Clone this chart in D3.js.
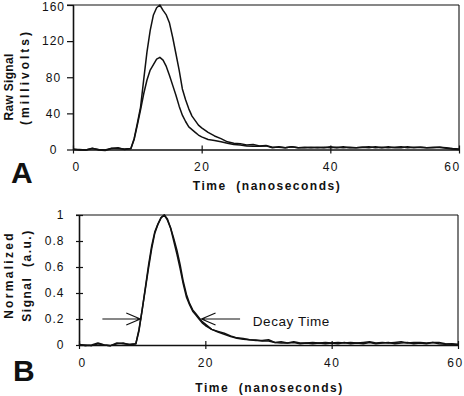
<!DOCTYPE html>
<html><head><meta charset="utf-8">
<script src="https://cdn.jsdelivr.net/npm/d3@7"></script>
<style>
html,body{margin:0;padding:0;background:#fff;}
svg{display:block;font-family:"Liberation Sans",Arial,Helvetica,sans-serif;}
</style></head>
<body>
<svg id="chart" width="464" height="396"></svg>
<script>
// ---- data ----
const times = [0,1,2,3,4,5,6,7,8,9,9.5,10,10.5,11,11.5,12,12.5,13,13.5,14,14.5,15,15.5,16,16.5,17,17.5,18,18.5,19,19.5,20,
  21,22,23,24,25,26,27,28,29,30,31,32,33,34,35,36,37,38,39,40,41,42,43,44,45,46,47,48,49,50,51,52,53,54,55,56,57,58,59,60];

// Panel A: raw signal (millivolts)
const rawHigh = [0.5,-0.5,-0.5,1.5,-0.5,-1,1,2,0,1,12,29,47,78,108,132,149,157,160,154,149,140,124,106,88,67,55,45,37,32,27,24,
  19,15,12,8.5,7,6.5,5,5.5,4,4.5,2.5,2.5,2,3,2,2.5,2,2.5,2,3,2,3,2,2,2.5,2,3,2,3,2,2,3,2,2.5,2,2,2.5,2,1,0.5];
const rawLow = [0,0,-0.5,1,0,-0.5,1.5,1,0.5,1,11,27,44,62,77,88,94,100,102,99,92,82,71,60,48,38,31,25,22,19,16,14,
  11,10,8.5,7,5.5,5,4,3.5,3.5,4,2,3,2,3,2,2,2.5,2,2.5,2,2.5,2,2.5,2,2.5,3,2,2.5,2,2.5,3,2,2.5,2.5,2,2.5,2.5,1.5,0.5,0];

// Panel B: normalized signal (a.u.)
const normHigh = [0.005,-0.005,0,0.015,0,-0.005,0.01,0.015,0,0.01,0.12,0.27,0.43,0.59,0.74,0.86,0.93,0.98,1.0,0.96,0.9,0.82,0.73,0.62,0.49,0.39,0.32,0.27,0.24,0.21,0.18,0.16,
  0.12,0.1,0.082,0.065,0.052,0.045,0.04,0.038,0.03,0.03,0.02,0.015,0.015,0.02,0.01,0.015,0.01,0.015,0.01,0.015,0.01,0.02,0.01,0.015,0.01,0.02,0.01,0.015,0.02,0.01,0.015,0.02,0.01,0.015,0.01,0.02,0.01,0.005,0.01,0.005];
const normLow = [0,0,-0.005,0.01,0,-0.005,0.015,0.01,0.005,0.01,0.11,0.27,0.44,0.61,0.76,0.87,0.93,0.98,1.0,0.97,0.9,0.8,0.7,0.59,0.47,0.37,0.31,0.26,0.23,0.2,0.17,0.15,
  0.12,0.105,0.09,0.07,0.055,0.05,0.04,0.035,0.035,0.04,0.02,0.025,0.015,0.025,0.015,0.015,0.02,0.015,0.02,0.015,0.02,0.015,0.02,0.015,0.02,0.025,0.015,0.02,0.015,0.02,0.025,0.015,0.02,0.02,0.015,0.02,0.02,0.01,0.005,0];

const xTicks = [0,20,40,60];
const xTickLabels = ["0","20","40","60"];
const yTicksA = [0,40,80,120,160];
const yTickLabelsA = ["0","40","80","120","160"];
const yTicksB = [0,0.2,0.4,0.6,0.8,1];
const yTickLabelsB = ["0","0.2","0.4","0.6","0.8","1"];

const xTitle = "Time  (nanoseconds)";
const arrowLevel = 0.2;
const arrowLeft = [3.7, 9.7];   // time range of left arrow (tip at right end)
const arrowRight = [19.4, 25.5]; // time range of right arrow (tip at left end)
const decayLabel = "Decay Time";
const decayLabelT = 27.5;

// ---- drawing ----
const svg = d3.select("#chart");
const ink = "#111";

function panel(opts){
  const {x, y, yTicks, yLabels, series, yLabelAnchor, yLabelDx, yTickIn, yTickOut} = opts;
  const g = svg.append("g");
  const [x0, x1] = x.range();
  const [yb, yt] = y.range();

  // top and right border
  g.append("line").attr("x1", x0 - yTickOut).attr("x2", x1).attr("y1", yt).attr("y2", yt)
    .attr("stroke", ink).attr("stroke-width", 1.1);
  g.append("line").attr("x1", x1).attr("x2", x1).attr("y1", yt).attr("y2", yb)
    .attr("stroke", ink).attr("stroke-width", 1.1);

  // x axis
  const xa = g.append("g").attr("transform", `translate(0,${yb})`)
    .call(d3.axisBottom(x).tickValues(xTicks).tickFormat((d,i)=>xTickLabels[i]).tickSizeOuter(0));
  xa.select(".domain").attr("stroke", ink).attr("stroke-width", 1.6);
  xa.selectAll(".tick line").attr("y1", -4).attr("y2", 4).attr("stroke", ink).attr("stroke-width", 1.2);
  xa.selectAll(".tick text").attr("y", opts.xLabelY).attr("dy", "0.35em")
    .attr("font-size", 12).attr("letter-spacing", 1.5).attr("fill", ink).attr("font-family", null)
    .attr("dx", (d,i)=> i===0 ? 3 : (i===xTicks.length-1 ? opts.lastDx : 0));

  // y axis
  const ya = g.append("g").attr("transform", `translate(${x0},0)`)
    .call(d3.axisLeft(y).tickValues(yTicks).tickFormat((d,i)=>yLabels[i]).tickSizeOuter(0));
  ya.select(".domain").attr("stroke", ink).attr("stroke-width", 1.6);
  ya.selectAll(".tick line").attr("x1", -yTickOut).attr("x2", yTickIn).attr("stroke", ink).attr("stroke-width", 1.2);
  ya.selectAll(".tick text").attr("x", yLabelDx).attr("text-anchor", yLabelAnchor)
    .attr("font-size", 12).attr("letter-spacing", 1).attr("fill", ink).attr("font-family", null)
    .attr("dy", (d,i)=> i===yTicks.length-1 ? opts.topDy : "0.32em");

  // lines
  const line = d3.line().x((d,i)=>x(times[i])).y(d=>y(d)).curve(d3.curveLinear);
  series.forEach(s => {
    g.append("path").datum(s).attr("d", line).attr("fill", "none")
      .attr("stroke", ink).attr("stroke-width", 1.5).attr("stroke-linejoin", "round");
  });

  // x title
  g.append("text").attr("x", (x0 + x1) / 2 + 1).attr("y", opts.titleY)
    .attr("text-anchor", "middle").attr("font-size", 12).attr("font-weight", "bold")
    .attr("letter-spacing", 1.5).attr("xml:space", "preserve").style("white-space", "pre")
    .attr("fill", ink).text(xTitle);
  return g;
}

// Panel A
const xA = d3.scaleLinear().domain([0,60]).range([73,459]);
const yA = d3.scaleLinear().domain([0,160]).range([149.5,5]);
panel({x:xA, y:yA, yTicks:yTicksA, yLabels:yTickLabelsA, series:[rawHigh, rawLow],
  yLabelAnchor:"middle", yLabelDx:-19.5, yTickIn:1, yTickOut:6, xLabelY:17.2, lastDx:-7, titleY:189.5, topDy:"0.45em"});

// Panel B
const xB = d3.scaleLinear().domain([0,60]).range([79,458]);
const yB = d3.scaleLinear().domain([0,1]).range([345,215]);
panel({x:xB, y:yB, yTicks:yTicksB, yLabels:yTickLabelsB, series:[normHigh, normLow],
  yLabelAnchor:"end", yLabelDx:-14.5, yTickIn:4, yTickOut:3, xLabelY:17.7, lastDx:-3, titleY:392, topDy:"0.32em"});

// Y titles
function vtext(txt, x, y, ls){
  svg.append("text").attr("transform", `translate(${x},${y}) rotate(-90)`)
    .attr("text-anchor", "middle").attr("font-size", 12).attr("font-weight", "bold")
    .attr("letter-spacing", ls).attr("xml:space", "preserve").style("white-space", "pre")
    .attr("fill", ink).text(txt);
}
vtext("Raw Signal", 12.5, 87, 0.3);
vtext("(millivolts)", 28.5, 77, 3);
vtext("Normalized", 12.5, 275, 2.3);
vtext("Signal  (a.u.)", 31, 275.5, 1.5);

// Panel letters
svg.append("text").attr("x", 11).attr("y", 183).attr("font-size", 30).attr("font-weight", "bold").attr("fill", ink).text("A");
svg.append("text").attr("x", 13).attr("y", 381).attr("font-size", 30).attr("font-weight", "bold").attr("fill", ink).text("B");

// Arrows in panel B
const ay = yB(arrowLevel);
function arrow(tail, tip){
  const dir = Math.sign(tip - tail);
  const p = d3.path();
  p.moveTo(tail, ay); p.lineTo(tip, ay);
  p.moveTo(tip - dir*14, ay - 6); p.lineTo(tip, ay); p.lineTo(tip - dir*14, ay + 6);
  svg.append("path").attr("d", p.toString()).attr("fill", "none").attr("stroke", ink).attr("stroke-width", 1.2);
}
arrow(xB(arrowLeft[0]), xB(arrowLeft[1]));
arrow(xB(arrowRight[1]), xB(arrowRight[0]));
svg.append("text").attr("x", xB(decayLabelT)).attr("y", ay + 2.5).attr("dy", "0.35em")
  .attr("font-size", 13.5).attr("letter-spacing", 0.6).attr("fill", ink).text(decayLabel);
</script>
</body></html>
